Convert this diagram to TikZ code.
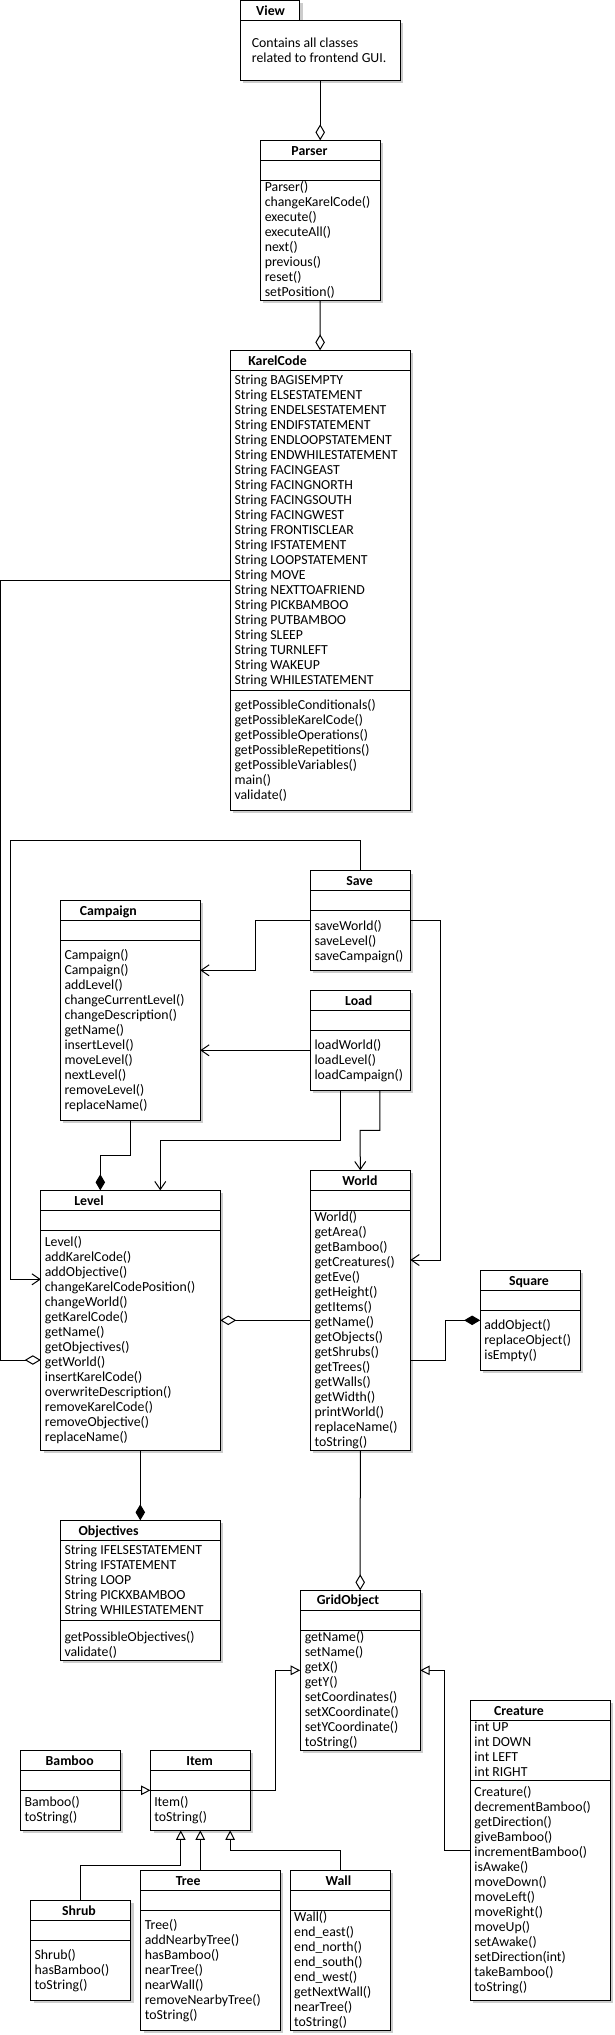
\documentclass[tikz,border=0pt]{standalone}
\usepackage{fontspec}
\setmainfont{Carlito}
\usetikzlibrary{arrows.meta}
\tikzset{
  shadowc/.style={fill=black!20},
  boxs/.style={draw, fill=white, line width=1pt, inner sep=0pt, outer sep=0pt, rectangle},
  txt/.style={anchor=base west, inner sep=0pt, font=\fontsize{13.8}{15}\selectfont},
  ttl/.style={anchor=base west, inner sep=0pt, font=\fontsize{13.8}{15}\selectfont\bfseries},
  conn/.style={line width=1pt},
  agg/.style={conn, {Diamond[fill=white,length=16pt,width=9.5pt]}-},
  comp/.style={conn, {Diamond[length=16pt,width=9.5pt]}-},
  dep/.style={conn, -{Straight Barb[length=8pt,width=11pt]}},
  gen/.style={conn, -{Triangle[fill=white,length=9.5pt,width=9.5pt]}}
}
\newcommand\umlbox[5]{%
  \fill[shadowc] ([shift={(3pt,-3pt)}]#2,#3) rectangle ([shift={(3pt,-3pt)}]#4,#5);
  \node[boxs, anchor=north west, minimum width={(#4-#2)*1.176pt}, minimum height={(#5-#3)*1pt}] (#1) at (#2,#3) {};}
\newcommand\classsep[2]{\draw[line width=1pt] (#1.west |- 0,#2) -- (#1.east |- 0,#2);}
\newcommand\classtitle[4]{\node[ttl] (#1t) at (#2,#3+4.5) {#4};}
\newcommand\classrows[5]{\foreach \t [count=\i from 0] in {#5} {\node[txt] (#1#2\i) at (#3,#4+4+15*\i) {\t};}}
\begin{document}
\begin{tikzpicture}[x=1.176pt,y=-1pt]
\useasboundingbox (0,0) rectangle (522.96,2035);
% View package
\umlbox{viewtab}{204.3}{0}{255}{20}
\umlbox{view}{204.3}{20}{340.3}{80.3}
\classtitle{view}{217.7}{10.7}{View}
\classrows{view}{r}{214}{43}{Contains all classes,related to frontend GUI.}
% Parser
\umlbox{parser}{221.3}{140.3}{323.3}{300}
\classsep{parser}{160.3}\classsep{parser}{180.3}
\classtitle{parser}{247.7}{150.5}{Parser}
\classrows{parser}{m}{225}{187.3}{Parser(),changeKarelCode(),execute(),executeAll(),next(),previous(),reset(),setPosition()}
% KarelCode
\umlbox{karel}{195.7}{350.3}{348.7}{810}
\classsep{karel}{370.3}\classsep{karel}{690.3}
\classtitle{karel}{211}{360.7}{KarelCode}
\classrows{karel}{a}{199.3}{380.7}{String BAGISEMPTY,String ELSESTATEMENT,String ENDELSESTATEMENT,String ENDIFSTATEMENT,String ENDLOOPSTATEMENT,String ENDWHILESTATEMENT,String FACINGEAST,String FACINGNORTH,String FACINGSOUTH,String FACINGWEST,String FRONTISCLEAR,String IFSTATEMENT,String LOOPSTATEMENT,String MOVE,String NEXTTOAFRIEND,String PICKBAMBOO,String PUTBAMBOO,String SLEEP,String TURNLEFT,String WAKEUP,String WHILESTATEMENT}
\classrows{karel}{m}{199.3}{705.7}{getPossibleConditionals(),getPossibleKarelCode(),getPossibleOperations(),getPossibleRepetitions(),getPossibleVariables(),main(),validate()}
% Save
\umlbox{save}{263.7}{870.7}{349}{970.3}
\classsep{save}{890.3}\classsep{save}{910.3}
\classtitle{save}{294.3}{881}{Save}
\classrows{save}{m}{267.3}{926}{saveWorld(),saveLevel(),saveCampaign()}
% Campaign
\umlbox{campaign}{51.3}{900.3}{170.3}{1120.3}
\classsep{campaign}{920.3}\classsep{campaign}{940.3}
\classtitle{campaign}{67.7}{910.7}{Campaign}
\classrows{campaign}{m}{54.7}{955.3}{Campaign(),Campaign(),addLevel(),changeCurrentLevel(),changeDescription(),getName(),insertLevel(),moveLevel(),nextLevel(),removeLevel(),replaceName()}
% Load
\umlbox{load}{263.7}{990.3}{349}{1090.3}
\classsep{load}{1010.3}\classsep{load}{1030.3}
\classtitle{load}{293.3}{1001}{Load}
\classrows{load}{m}{267.3}{1045.3}{loadWorld(),loadLevel(),loadCampaign()}
% Level
\umlbox{level}{34.7}{1190.3}{187.3}{1450.3}
\classsep{level}{1210.3}\classsep{level}{1230.3}
\classtitle{level}{63}{1200.7}{Level}
\classrows{level}{m}{38}{1242.3}{Level(),addKarelCode(),addObjective(),changeKarelCodePosition(),changeWorld(),getKarelCode(),getName(),getObjectives(),getWorld(),insertKarelCode(),overwriteDescription(),removeKarelCode(),removeObjective(),replaceName()}
% World
\umlbox{world}{263.7}{1170.3}{349}{1450.3}
\classsep{world}{1190.3}\classsep{world}{1210.3}
\classtitle{world}{291}{1180.7}{World}
\classrows{world}{m}{267.3}{1217.7}{World(),getArea(),getBamboo(),getCreatures(),getEve(),getHeight(),getItems(),getName(),getObjects(),getShrubs(),getTrees(),getWalls(),getWidth(),printWorld(),replaceName(),toString()}
% Square
\umlbox{square}{408.3}{1270.3}{493.3}{1370.3}
\classsep{square}{1290.3}\classsep{square}{1310.3}
\classtitle{square}{432.7}{1280.7}{Square}
\classrows{square}{m}{411.7}{1325.7}{addObject(),replaceObject(),isEmpty()}
% Objectives
\umlbox{objectives}{51.3}{1520.3}{187.3}{1660.3}
\classsep{objectives}{1540.3}\classsep{objectives}{1620.3}
\classtitle{objectives}{66.7}{1530.7}{Objectives}
\classrows{objectives}{a}{54.7}{1550.3}{String IFELSESTATEMENT,String IFSTATEMENT,String LOOP,String PICKXBAMBOO,String WHILESTATEMENT}
\classrows{objectives}{m}{54.7}{1637.7}{getPossibleObjectives(),validate()}
% GridObject
\umlbox{gridobject}{255.3}{1590.3}{357.3}{1750.3}
\classsep{gridobject}{1610.3}\classsep{gridobject}{1630.3}
\classtitle{gridobject}{269.3}{1600.3}{GridObject}
\classrows{gridobject}{m}{259}{1637.7}{getName(),setName(),getX(),getY(),setCoordinates(),setXCoordinate(),setYCoordinate(),toString()}
% Creature
\umlbox{creature}{400}{1700.3}{519}{2000.3}
\classsep{creature}{1720.3}\classsep{creature}{1780.3}
\classtitle{creature}{420}{1710.7}{Creature}
\classrows{creature}{a}{403.3}{1727.3}{int UP,int DOWN,int LEFT,int RIGHT}
\classrows{creature}{m}{403.3}{1792.7}{Creature(),decrementBamboo(),getDirection(),giveBamboo(),incrementBamboo(),isAwake(),moveDown(),moveLeft(),moveRight(),moveUp(),setAwake(),setDirection(int),takeBamboo(),toString()}
% Bamboo
\umlbox{bamboo}{17.3}{1750.3}{102.3}{1830.3}
\classsep{bamboo}{1770.3}\classsep{bamboo}{1790.3}
\classtitle{bamboo}{38.7}{1761}{Bamboo}
\classrows{bamboo}{m}{20.7}{1802.7}{Bamboo(),toString()}
% Item
\umlbox{item}{128}{1750.3}{212.7}{1830.3}
\classsep{item}{1770.3}\classsep{item}{1790.3}
\classtitle{item}{158.3}{1761}{Item}
\classrows{item}{m}{131}{1802.7}{Item(),toString()}
% Shrub
\umlbox{shrub}{26}{1900.3}{111}{2000.3}
\classsep{shrub}{1920.3}\classsep{shrub}{1940.3}
\classtitle{shrub}{52.7}{1911}{Shrub}
\classrows{shrub}{m}{29.3}{1955.3}{Shrub(),hasBamboo(),toString()}
% Tree
\umlbox{tree}{119.7}{1870.3}{238.3}{2030.3}
\classsep{tree}{1890.3}\classsep{tree}{1910.3}
\classtitle{tree}{149.3}{1881}{Tree}
\classrows{tree}{m}{123}{1925.3}{Tree(),addNearbyTree(),hasBamboo(),nearTree(),nearWall(),removeNearbyTree(),toString()}
% Wall
\umlbox{wall}{246.7}{1870.3}{331.7}{2030.3}
\classsep{wall}{1890.3}\classsep{wall}{1910.3}
\classtitle{wall}{276.7}{1881}{Wall}
\classrows{wall}{m}{250}{1917.3}{Wall(),end\_east(),end\_north(),end\_south(),end\_west(),getNextWall(),nearTree(),toString()}
% ---- connectors ----
\draw[agg] (parser.north) -- (view.south);
\draw[agg] (karel.north) -- (parser.south);
\draw[agg] (level.west |- 0,1360) -- (0.5,1360) |- (karel.west |- 0,580.3);
\draw[dep] (save.north) |- (8.7,840.3) |- (level.west |- 0,1279.3);
\draw[dep] (save.west |- 0,920.3) -| (217.3,970.3) -- (campaign.east |- 0,970.3);
\draw[dep] (save.east |- 0,920.3) -| (374.3,1260) -- (world.east |- 0,1260);
\draw[dep] (load.west |- 0,1050.3) -- (campaign.east |- 0,1050.3);
\draw[dep] (load.south -| 289.3,0) |- (136.3,1140.3) -- (level.north -| 136.3,0);
\draw[dep] (load.south -| 323,0) |- (306.3,1130.3) -- (world.north);
\draw[comp] (level.north -| 85.3,0) |- (111,1155.3) -- (campaign.south -| 111,0);
\draw[agg] (level.east |- 0,1320.3) -- (world.west |- 0,1320.3);
\draw[comp] (square.west |- 0,1320.3) -| (378.7,1360.3) -- (world.east |- 0,1360.3);
\draw[comp] (objectives.north -| 119.3,0) -- (level.south -| 119.3,0);
\draw[agg] (gridobject.north) -- (world.south);
\draw[gen] (item.east |- 0,1790.3) -| (234.3,1670.3) -- (gridobject.west |- 0,1670.3);
\draw[gen] (creature.west |- 0,1850.3) -| (378.3,1670.3) -- (gridobject.east |- 0,1670.3);
\draw[gen] (bamboo.east |- 0,1790.3) -- (item.west |- 0,1790.3);
\draw[gen] (shrub.north) |- (153.7,1865.3) -- (item.south -| 153.7,0);
\draw[gen] (tree.north -| 170.3,0) -- (item.south -| 170.3,0);
\draw[gen] (wall.north) |- (195.7,1850.3) -- (item.south -| 195.7,0);
\end{tikzpicture}
\end{document}
